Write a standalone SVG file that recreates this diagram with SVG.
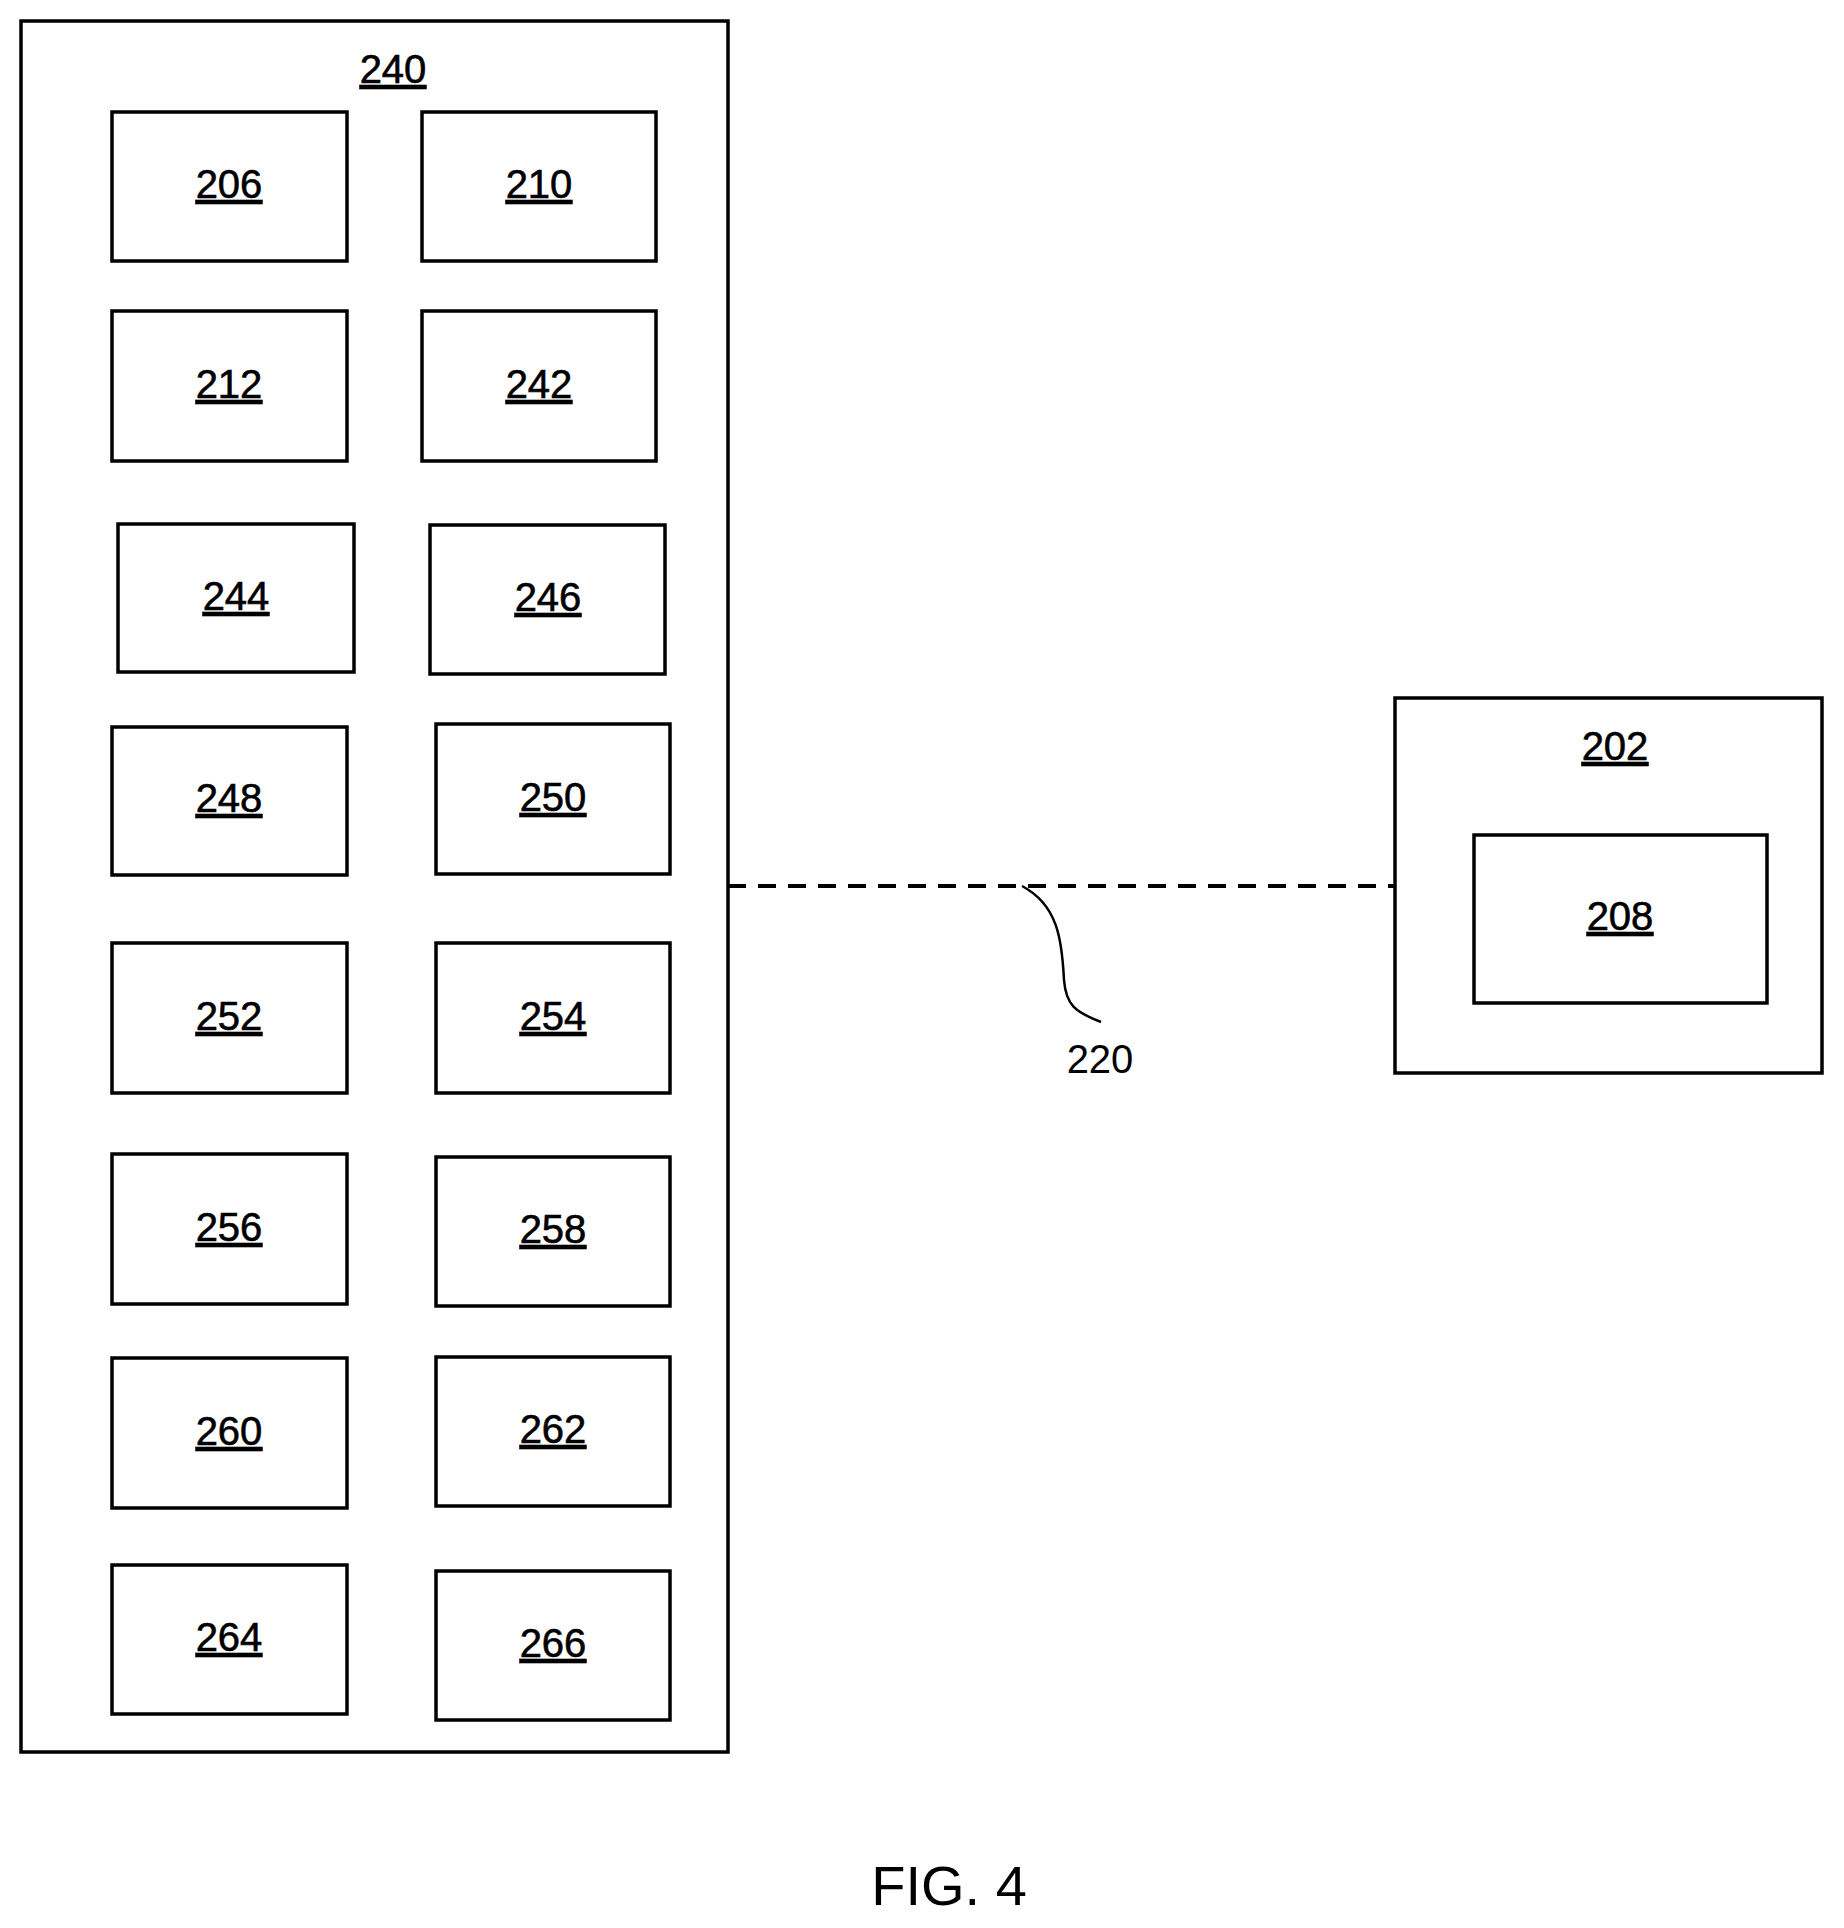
<svg xmlns="http://www.w3.org/2000/svg" width="1844" height="1928" viewBox="0 0 1844 1928">
<style>
rect{fill:none;stroke:#000;stroke-width:3.5}
text{font-family:"Liberation Sans",Arial,sans-serif;font-size:40px;text-anchor:middle;fill:#000;stroke:#000;stroke-width:0.6}
.u{text-decoration:underline}
</style>
<rect x="0" y="0" width="1844" height="1928" style="fill:#fff;stroke:none"/>
<g id="n240"><rect x="21" y="21" width="707" height="1731"/><text class="u" x="393" y="83">240</text></g>
<g id="n206"><rect x="112" y="112" width="235" height="149"/><text class="u" x="229" y="198">206</text></g>
<g id="n210"><rect x="422" y="112" width="234" height="149"/><text class="u" x="539" y="198">210</text></g>
<g id="n212"><rect x="112" y="311" width="235" height="150"/><text class="u" x="229" y="398">212</text></g>
<g id="n242"><rect x="422" y="311" width="234" height="150"/><text class="u" x="539" y="398">242</text></g>
<g id="n244"><rect x="118" y="524" width="236" height="148"/><text class="u" x="236" y="610">244</text></g>
<g id="n246"><rect x="430" y="525" width="235" height="149"/><text class="u" x="548" y="611">246</text></g>
<g id="n248"><rect x="112" y="727" width="235" height="148"/><text class="u" x="229" y="812">248</text></g>
<g id="n250"><rect x="436" y="724" width="234" height="150"/><text class="u" x="553" y="811">250</text></g>
<g id="n252"><rect x="112" y="943" width="235" height="150"/><text class="u" x="229" y="1030">252</text></g>
<g id="n254"><rect x="436" y="943" width="234" height="150"/><text class="u" x="553" y="1030">254</text></g>
<g id="n256"><rect x="112" y="1154" width="235" height="150"/><text class="u" x="229" y="1241">256</text></g>
<g id="n258"><rect x="436" y="1157" width="234" height="149"/><text class="u" x="553" y="1243">258</text></g>
<g id="n260"><rect x="112" y="1358" width="235" height="150"/><text class="u" x="229" y="1445">260</text></g>
<g id="n262"><rect x="436" y="1357" width="234" height="149"/><text class="u" x="553" y="1443">262</text></g>
<g id="n264"><rect x="112" y="1565" width="235" height="149"/><text class="u" x="229" y="1651">264</text></g>
<g id="n266"><rect x="436" y="1571" width="234" height="149"/><text class="u" x="553" y="1657">266</text></g>
<g id="n202"><rect x="1395" y="698" width="427" height="375"/><text class="u" x="1615" y="760">202</text></g>
<g id="n208"><rect x="1474" y="835" width="293" height="168"/><text class="u" x="1620" y="930">208</text></g>
<g id="connectors">
<line x1="728" y1="886" x2="1395" y2="886" stroke="#000" stroke-width="4" stroke-dasharray="18,12"/>
<path d="M1022,886 C1058,905 1062,940 1064,980 C1066,1005 1075,1012 1101,1022" fill="none" stroke="#000" stroke-width="2.5"/>
<text x="1100" y="1073" style="stroke-width:0">220</text>
</g>
<text x="949" y="1905" style="font-size:56px;stroke-width:0">FIG. 4</text>
</svg>
